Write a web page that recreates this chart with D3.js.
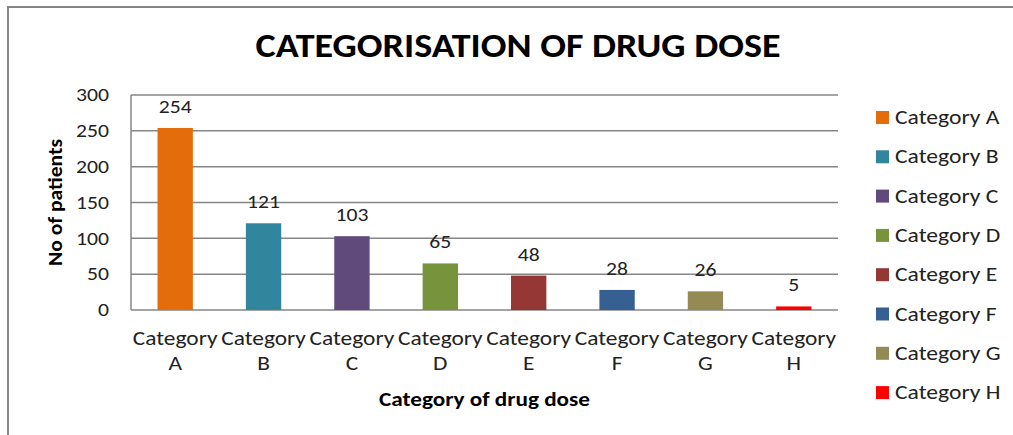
<!DOCTYPE html>
<html>
<head>
<meta charset="utf-8">
<script src="https://cdn.jsdelivr.net/npm/d3@7"></script>
<style>
  html, body { margin: 0; padding: 0; background: #fff; }
  svg { display: block; }
  text { font-family: Carlito, Calibri, Lato, "Noto Sans", sans-serif; fill: #222; }
</style>
</head>
<body>
<svg id="chart" width="1013" height="435"></svg>
<script>
// Patients per drug dose category
const categories = ["Category A", "Category B", "Category C", "Category D",
                    "Category E", "Category F", "Category G", "Category H"];
const patients = [254, 121, 103, 65, 48, 28, 26, 5];
const colors = ["#E46C0A", "#31859C", "#604A7B", "#77933C",
                "#953735", "#376092", "#948A54", "#FF0000"];
const yTicks = [0, 50, 100, 150, 200, 250, 300];

const svg = d3.select("#chart");
const W = 1013, H = 435;
const plot = { left: 131, right: 838, top: 95, bottom: 310 };
const grid = "#868686";

// place a text element at (x, y) with a horizontal stretch
function place(sel, x, y, sx = 1.16, rot = 0) {
  sel.attr("transform", (d, i) => {
    const px = typeof x === "function" ? x(d, i) : x;
    const py = typeof y === "function" ? y(d, i) : y;
    return `translate(${px},${py}) rotate(${rot}) scale(${sx},1)`;
  });
  return sel;
}

// outer frame (runs off the right and bottom edges)
svg.append("rect")
  .attr("x", 8).attr("y", 7).attr("width", W + 20).attr("height", H + 20)
  .attr("fill", "none").attr("stroke", grid).attr("stroke-width", 2);

// title
place(svg.append("text"), 518, 57, 1.12)
  .attr("text-anchor", "middle")
  .style("font-size", "34px").style("font-weight", "bold").style("fill", "#000")
  .text("CATEGORISATION OF DRUG DOSE");

const x = d3.scaleBand().domain(categories)
  .range([plot.left, plot.right]).paddingInner(0.6).paddingOuter(0.3);
const y = d3.scaleLinear().domain([0, 300]).range([plot.bottom, plot.top]);

// horizontal gridlines
svg.append("g").selectAll("line").data(yTicks).join("line")
  .attr("x1", plot.left).attr("x2", plot.right)
  .attr("y1", d => y(d)).attr("y2", d => y(d))
  .attr("stroke", grid).attr("stroke-width", 1.5);

// y axis line
svg.append("line")
  .attr("x1", plot.left).attr("x2", plot.left)
  .attr("y1", plot.top).attr("y2", plot.bottom)
  .attr("stroke", grid).attr("stroke-width", 1.5);

// y tick labels
place(svg.append("g").selectAll("text").data(yTicks).join("text"), 109, d => y(d), 1.14)
  .attr("dy", "0.33em")
  .attr("text-anchor", "end")
  .style("font-size", "19px")
  .text(d => d);

// bars
svg.append("g").selectAll("rect").data(patients).join("rect")
  .attr("x", (d, i) => x(categories[i]))
  .attr("width", x.bandwidth())
  .attr("y", d => y(d))
  .attr("height", d => y(0) - y(d))
  .attr("fill", (d, i) => colors[i]);

// value labels
place(svg.append("g").selectAll("text").data(patients).join("text"),
      (d, i) => x(categories[i]) + x.bandwidth() / 2, d => y(d) - 15, 1.14)
  .attr("text-anchor", "middle")
  .style("font-size", "19px")
  .text(d => d);

// x category labels, wrapped on two lines
const xl = place(svg.append("g").selectAll("text").data(categories).join("text"),
                 c => x(c) + x.bandwidth() / 2, 0, 1.17)
  .attr("text-anchor", "middle")
  .style("font-size", "20px");
xl.each(function (c) {
  const parts = c.split(" ");
  d3.select(this).append("tspan").attr("x", 0).attr("y", 345).text(parts[0]);
  d3.select(this).append("tspan").attr("x", 0).attr("y", 370).text(parts[1]);
});

// axis titles
place(svg.append("text"), (plot.left + plot.right) / 2, 406, 1.16)
  .attr("text-anchor", "middle")
  .style("font-size", "20px").style("font-weight", "bold").style("fill", "#000")
  .text("Category of drug dose");

place(svg.append("text"), 62, (plot.top + plot.bottom) / 2, 1.08, -90)
  .attr("text-anchor", "middle")
  .style("font-size", "20px").style("font-weight", "bold").style("fill", "#000")
  .text("No of patients");

// legend
const lg = svg.append("g").selectAll("g").data(categories).join("g")
  .attr("transform", (d, i) => `translate(876, ${117 + i * 39.3})`);
lg.append("rect")
  .attr("x", 0).attr("y", -6).attr("width", 13).attr("height", 13)
  .attr("fill", (d, i) => colors[i]);
place(lg.append("text"), 19, 0, 1.18)
  .attr("dy", "0.35em")
  .style("font-size", "20px")
  .text(d => d);
</script>
</body>
</html>
